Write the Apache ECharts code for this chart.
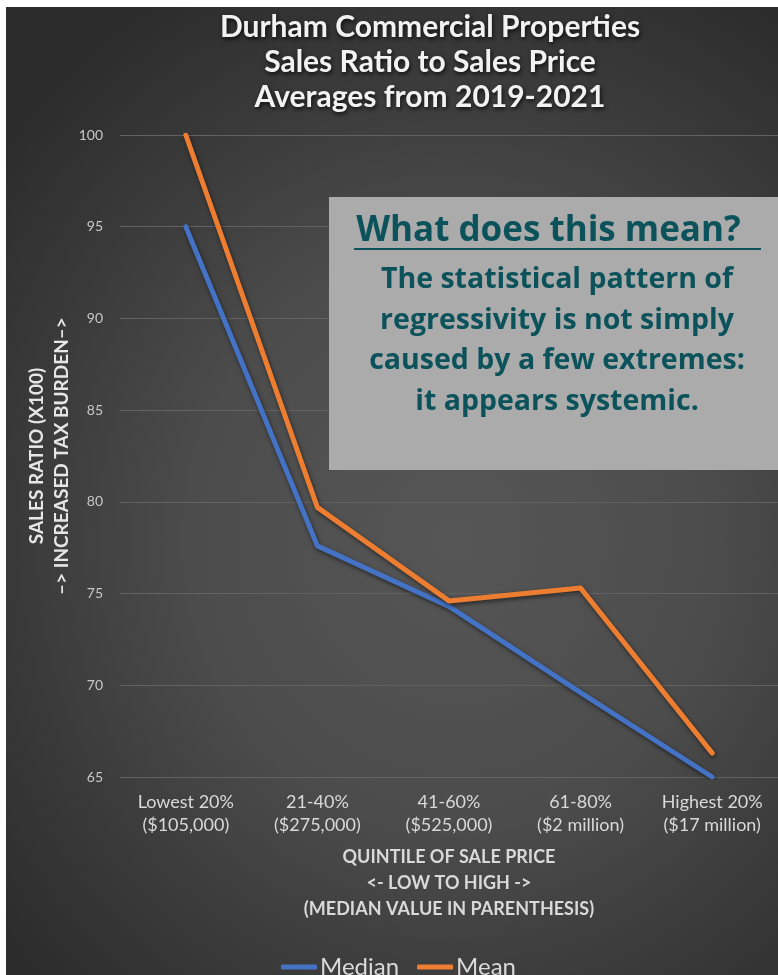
<!DOCTYPE html>
<html>
<head>
<meta charset="utf-8">
<script src="https://cdn.jsdelivr.net/npm/echarts@6/dist/echarts.min.js"></script>
<style>
  html, body { margin: 0; padding: 0; background: #ffffff; }
  #frame {
    position: absolute; left: 6px; top: 7px; width: 772px; height: 968px;
    background: radial-gradient(ellipse 75% 65% at 58% 55%, #565656 0%, #4c4c4c 45%, #3a3a3a 75%, #2c2c2c 100%);
  }
  #chart { position: absolute; left: 0; top: 0; width: 778px; height: 975px; }
</style>
</head>
<body>
<div id="frame"></div>
<div id="chart"></div>
<script>
// Quintiles of sale price (median sale value of each band in parentheses)
const quintiles = ['Lowest 20%\n($105,000)', '21-40%\n($275,000)', '41-60%\n($525,000)', '61-80%\n($2 million)', 'Highest 20%\n($17 million)'];
// Sales ratio (x100) per quintile
const medianRatio = [95.0, 77.6, 74.3, 69.6, 65.0];
const meanRatio = [100.0, 79.7, 74.6, 75.3, 66.3];
// Value axis ticks
const yMin = 65, yMax = 100, yStep = 5;

const titleLines = ['Durham Commercial Properties', 'Sales Ratio to Sales Price', 'Averages from 2019-2021'];
const noteHeading = 'What does this mean? ';
const noteBody = ['The statistical pattern of', 'regressivity is not simply', 'caused by a few extremes:', 'it appears systemic.'];

const chart = echarts.init(document.getElementById('chart'), null, { renderer: 'canvas' });

const teal = '#0c525b';
const lineShadow = { shadowColor: 'rgba(0,0,0,0.55)', shadowBlur: 4, shadowOffsetX: 1, shadowOffsetY: 2 };

const graphics = [];
titleLines.forEach((t, i) => {
  graphics.push({
    type: 'text', x: 430, y: 27 + i * 35, z: 10,
    style: {
      text: t, x: 0, y: 0, align: 'center', verticalAlign: 'middle',
      font: 'bold 30px Lato', fill: '#f2f2f2',
      textShadowColor: 'rgba(0,0,0,0.8)', textShadowBlur: 4, textShadowOffsetX: 1, textShadowOffsetY: 2
    }
  });
});
// Explanatory note panel
graphics.push({ type: 'rect', x: 329, y: 197, z: 20, shape: { width: 449, height: 273 }, style: { fill: '#ababab' } });
graphics.push({
  type: 'text', x: 553, y: 231, z: 21,
  style: { text: noteHeading, align: 'center', verticalAlign: 'middle', font: 'bold 35px "Open Sans"', fill: teal }
});
graphics.push({ type: 'rect', x: 354, y: 248, z: 21, shape: { width: 407, height: 2 }, style: { fill: teal } });
noteBody.forEach((t, i) => {
  graphics.push({
    type: 'text', x: 557, y: 280 + i * 40.5, z: 21,
    style: { text: t, align: 'center', verticalAlign: 'middle', font: 'bold 28.5px "Open Sans"', fill: teal }
  });
});

chart.setOption({
  backgroundColor: 'transparent',
  animation: false,
  grid: { left: 120, right: 0, top: 135, bottom: 198, containLabel: false },
  xAxis: {
    type: 'category',
    data: quintiles,
    boundaryGap: true,
    axisLine: { show: false },
    axisTick: { show: false },
    axisLabel: { color: '#d9d9d9', fontFamily: 'Lato', fontSize: 18, lineHeight: 23, margin: 14, interval: 0 },
    name: 'QUINTILE OF SALE PRICE\n<- LOW TO HIGH ->\n(MEDIAN VALUE IN PARENTHESIS)',
    nameLocation: 'middle',
    nameGap: 67,
    nameTextStyle: { color: '#d9d9d9', fontFamily: 'Lato', fontWeight: 'bold', fontSize: 18, lineHeight: 26 }
  },
  yAxis: {
    type: 'value',
    min: yMin, max: yMax, interval: yStep,
    axisLine: { show: false },
    axisTick: { show: false },
    splitLine: { lineStyle: { color: '#626262', width: 1 } },
    axisLabel: { color: '#c8c8c8', fontFamily: 'Lato', fontSize: 14, margin: 17 },
    name: 'SALES RATIO (X100)\n–> INCREASED TAX BURDEN–>',
    nameLocation: 'middle',
    nameRotate: 90,
    nameGap: 46,
    nameMoveOverlap: false,
    nameTextStyle: { color: '#e6e6e6', fontFamily: 'Lato', fontWeight: 'bold', fontSize: 19, lineHeight: 25, align: 'center' }
  },
  legend: {
    top: 950, left: 276,
    itemWidth: 36, itemHeight: 5, itemGap: 18,
    icon: 'roundRect',
    textStyle: { color: '#d9d9d9', fontFamily: 'Lato', fontSize: 24, padding: [0, 0, 0, -2] },
    data: ['Median', 'Mean']
  },
  series: [
    {
      name: 'Median', type: 'line', data: medianRatio,
      symbol: 'none', color: '#4472c4',
      lineStyle: Object.assign({ width: 5, color: '#4472c4', cap: 'round', join: 'round' }, lineShadow),
      z: 3
    },
    {
      name: 'Mean', type: 'line', data: meanRatio,
      symbol: 'none', color: '#ed7d31',
      lineStyle: Object.assign({ width: 5, color: '#ed7d31', cap: 'round', join: 'round' }, lineShadow),
      z: 4
    }
  ],
  graphic: graphics
});
</script>
</body>
</html>
